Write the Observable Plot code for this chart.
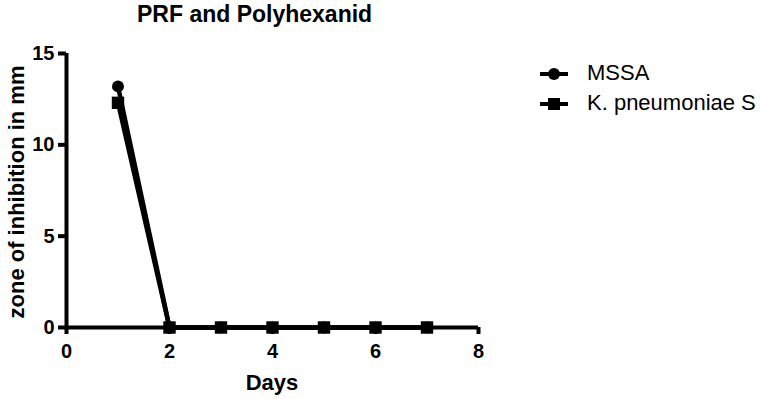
<!DOCTYPE html>
<html>
<head>
<meta charset="utf-8">
<script src="https://cdn.jsdelivr.net/npm/d3@7"></script>
<script src="https://cdn.jsdelivr.net/npm/@observablehq/plot@0.6"></script>
<style>
  body { margin: 0; background: #fff; }
  #wrap { position: relative; width: 760px; height: 399px; font-family: "Liberation Sans", Arial, sans-serif; }
  .title { position: absolute; left: 137px; top: 0px; font-size: 23px; line-height: 28px; font-weight: bold; white-space: nowrap; }
  .xlab { position: absolute; left: 272px; top: 369px; transform: translateX(-50%); font-size: 22px; line-height: 28px; font-weight: bold; }
  .ylab { position: absolute; left: 17px; top: 192px; transform: translate(-50%, -50%) rotate(-90deg); font-size: 22px; line-height: 26px; font-weight: bold; white-space: nowrap; }
  .leg { position: absolute; left: 540px; font-size: 22px; line-height: 26px; white-space: nowrap; }
  .leg svg { vertical-align: -1px; margin-right: 19px; }
</style>
</head>
<body>
<div id="wrap">
  <div id="chart"></div>
  <div class="title">PRF and Polyhexanid</div>
  <div class="xlab">Days</div>
  <div class="ylab">zone of inhibition in mm</div>
  <div class="leg" style="top:60px"><svg width="28" height="14"><line x1="0" y1="7" x2="28" y2="7" stroke="#000" stroke-width="4"/><circle cx="14" cy="7" r="6" fill="#000"/></svg>MSSA</div>
  <div class="leg" style="top:90px"><svg width="28" height="14"><line x1="0" y1="7" x2="28" y2="7" stroke="#000" stroke-width="4"/><rect x="8" y="1" width="12" height="12" fill="#000"/></svg>K. pneumoniae S</div>
</div>
<script>
const days = [1, 2, 3, 4, 5, 6, 7];
const mssa = [13.2, 0, 0, 0, 0, 0, 0];
const kpn = [12.3, 0, 0, 0, 0, 0, 0];
const xTicks = [0, 2, 4, 6, 8];
const yTicks = [0, 5, 10, 15];

const mssaData = days.map((d, i) => ({day: d, value: mssa[i]}));
const kpnData = days.map((d, i) => ({day: d, value: kpn[i]}));

const plot = Plot.plot({
  width: 760,
  height: 399,
  marginLeft: 66,
  marginRight: 282,
  marginTop: 53,
  marginBottom: 72,
  style: {fontFamily: '"Liberation Sans", Arial, sans-serif', background: "transparent"},
  x: {domain: [0, 8], axis: null},
  y: {domain: [0, 15], axis: null},
  marks: [
    Plot.ruleX(xTicks, {x: d => d, y1: 0, y2: 0, insetBottom: -7, strokeWidth: 4, stroke: "#000"}),
    Plot.ruleY(yTicks, {y: d => d, x1: 0, x2: 0, insetLeft: -8, strokeWidth: 4, stroke: "#000"}),
    Plot.text(xTicks, {x: d => d, y: 0, text: d => String(d), dy: 24, fontSize: 20, fontWeight: "bold", fill: "#000"}),
    Plot.text(yTicks, {x: 0, y: d => d, text: d => String(d), dx: -12, textAnchor: "end", fontSize: 20, fontWeight: "bold", fill: "#000"}),
    Plot.ruleY([0], {strokeWidth: 4, stroke: "#000"}),
    Plot.ruleX([0], {y1: 0, y2: 15, strokeWidth: 4, stroke: "#000"}),
    Plot.line(mssaData, {x: "day", y: "value", stroke: "#000", strokeWidth: 4.5}),
    Plot.dot(mssaData, {x: "day", y: "value", r: 6, fill: "#000", symbol: "circle"}),
    Plot.line(kpnData, {x: "day", y: "value", stroke: "#000", strokeWidth: 4.5}),
    Plot.dot(kpnData, {x: "day", y: "value", r: 7, fill: "#000", symbol: "square"})
  ]
});
document.getElementById("chart").appendChild(plot);
</script>
</body>
</html>
